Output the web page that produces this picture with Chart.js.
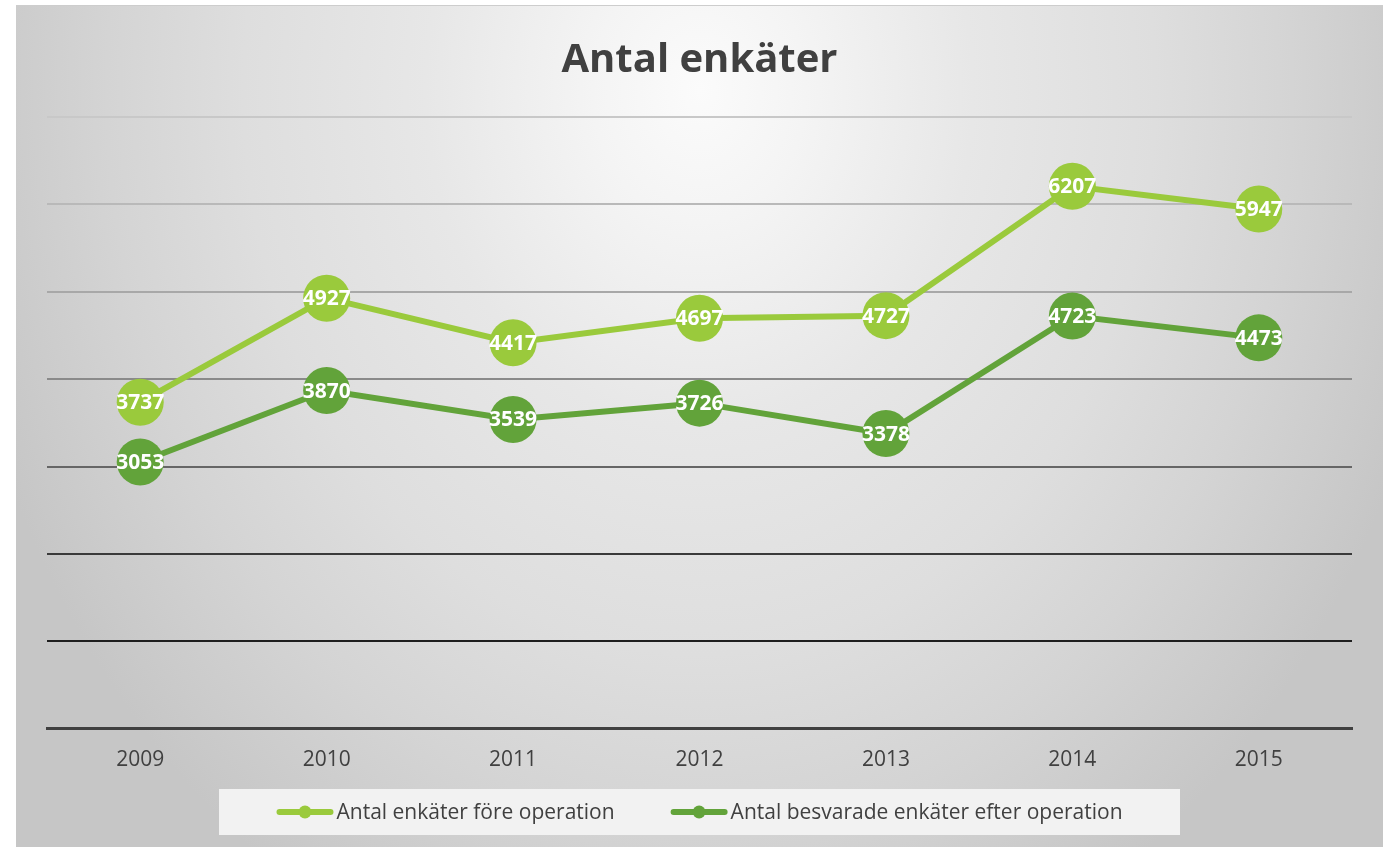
<!DOCTYPE html>
<html>
<head>
<meta charset="utf-8">
<script src="https://cdn.jsdelivr.net/npm/chart.js@4.4.1/dist/chart.umd.min.js"></script>
<style>
    html, body { margin: 0; padding: 0; background: #ffffff; }
    #frame {
        position: absolute;
        left: 16px; top: 5px;
        width: 1367px; height: 842px;
        background: radial-gradient(ellipse 760px 940px at 50% 10%,
            #fbfbfb 0%, #f4f4f4 14%, #e7e7e7 36%, #dedede 60%, #d4d4d4 78%, #c6c6c6 100%);
        border-top: 1px solid #cdcdcd;
        box-sizing: border-box;
    }
    canvas { display: block; }
</style>
</head>
<body>
<div id="frame"><canvas id="chart" width="1367" height="841"></canvas></div>
<script>
// ── DATA ──
const years = ['2009', '2010', '2011', '2012', '2013', '2014', '2015'];
const beforeOp = [3737, 4927, 4417, 4697, 4727, 6207, 5947];
const afterOp = [3053, 3870, 3539, 3726, 3378, 4723, 4473];
const seriesNames = ['Antal enkäter före operation', 'Antal besvarade enkäter efter operation'];

const LIGHT = '#9ACA3C';
const DARK = '#62A33A';
const TEXT = '#404040';

// gridline shade goes darker towards the bottom
const GRID_SHADES = {
    0: '#404040', 1000: '#1e1e1e', 2000: '#3a3a3a', 3000: '#666666',
    4000: '#8a8a8a', 5000: '#a8a8a8', 6000: '#b9b9b9', 7000: '#c8c8c8'
};

// ── DATA LABELS (white numbers inside the dots) ──
const valueLabels = {
    id: 'valueLabels',
    afterDatasetsDraw(chart) {
        const c = chart.ctx;
        c.save();
        c.font = 'bold 21px "Open Sans"';
        c.fillStyle = '#ffffff';
        c.textAlign = 'center';
        c.textBaseline = 'middle';
        chart.data.datasets.forEach((ds, i) => {
            chart.getDatasetMeta(i).data.forEach((pt, j) => {
                c.fillText(String(ds.data[j]), pt.x, pt.y + 1);
            });
        });
        c.restore();
    }
};

// ── LEGEND (boxed, line + dot markers) ──
const boxLegend = {
    id: 'boxLegend',
    afterDraw(chart) {
        const c = chart.ctx;
        const markW = 57, gapText = 3, gapItem = 56;
        c.save();
        c.font = '21px "Open Sans"';
        const items = chart.data.datasets.map(ds => ({
            label: ds.label, color: ds.borderColor, w: c.measureText(ds.label).width
        }));
        let total = 0;
        items.forEach((it, i) => { total += markW + gapText + it.w + (i ? gapItem : 0); });

        const cx = chart.width / 2;
        const boxW = total + 115, boxH = 46;
        const boxTop = chart.height - 58;
        c.fillStyle = '#f2f2f2';
        c.fillRect(cx - boxW / 2, boxTop, boxW, boxH);

        const cy = boxTop + boxH / 2;
        let x = cx - total / 2;
        items.forEach(it => {
            c.strokeStyle = it.color;
            c.lineWidth = 6;
            c.lineCap = 'round';
            c.beginPath();
            c.moveTo(x + 3, cy);
            c.lineTo(x + markW - 3, cy);
            c.stroke();
            c.fillStyle = it.color;
            c.beginPath();
            c.arc(x + markW / 2, cy, 6.5, 0, Math.PI * 2);
            c.fill();
            x += markW + gapText;
            c.fillStyle = TEXT;
            c.textAlign = 'left';
            c.textBaseline = 'middle';
            c.fillText(it.label, x, cy + 1);
            x += it.w + gapItem;
        });
        c.restore();
    }
};

// ── CHART SETUP ──
const ctx = document.getElementById('chart').getContext('2d');
const chart = new Chart(ctx, {
    type: 'line',
    data: {
        labels: years,
        datasets: [
            {
                label: seriesNames[0],
                data: beforeOp,
                borderColor: LIGHT,
                backgroundColor: LIGHT,
                pointBackgroundColor: LIGHT,
                borderWidth: 6,
                pointRadius: 23.5,
                pointBorderWidth: 0,
                tension: 0,
                clip: false
            },
            {
                label: seriesNames[1],
                data: afterOp,
                borderColor: DARK,
                backgroundColor: DARK,
                pointBackgroundColor: DARK,
                borderWidth: 6,
                pointRadius: 23.5,
                pointBorderWidth: 0,
                tension: 0,
                clip: false
            }
        ]
    },
    options: {
        responsive: false,
        animation: false,
        layout: { padding: { left: 31, right: 31, top: 0, bottom: 55 } },
        plugins: {
            legend: { display: false },
            tooltip: { enabled: false },
            title: {
                display: true,
                text: 'Antal enkäter',
                color: TEXT,
                font: { family: '"Open Sans"', size: 40, weight: 'bold' },
                padding: { top: 31, bottom: 32 }
            }
        },
        scales: {
            x: {
                offset: true,
                grid: { display: false, drawTicks: false },
                border: { display: true, color: TEXT, width: 3 },
                ticks: {
                    color: TEXT,
                    padding: 19,
                    font: { family: '"Open Sans"', size: 21 }
                }
            },
            y: {
                min: 0,
                max: 7000,
                ticks: { display: false, stepSize: 1000 },
                border: { display: false },
                grid: {
                    drawTicks: false,
                    color: c => GRID_SHADES[c.tick.value] || '#999999',
                    lineWidth: c => c.tick.value === 0 ? 3 : 2
                }
            }
        }
    },
    plugins: [valueLabels, boxLegend]
});
</script>
</body>
</html>
